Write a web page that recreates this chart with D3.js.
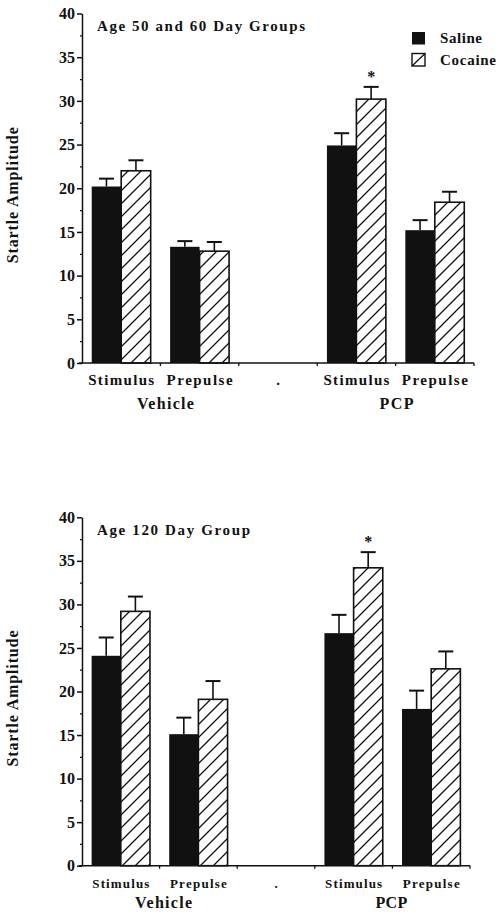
<!DOCTYPE html>
<html><head><meta charset="utf-8">
<script src="https://cdn.jsdelivr.net/npm/d3@7"></script>
<style>
body{margin:0;background:#fff}
text{font-family:"Liberation Serif","Times New Roman",serif;font-weight:bold;fill:#111}
</style>
</head><body>
<svg id="c" width="503" height="918"></svg>
<script>
// ---- data ----
const categories = ["Stimulus", "Prepulse", ".", "Stimulus", "Prepulse"];
const groups = ["Vehicle", "PCP"];
const series = ["Saline", "Cocaine"];
const yTicks = [0, 5, 10, 15, 20, 25, 30, 35, 40];
const yMinorTicks = [2.5, 7.5, 12.5, 17.5, 22.5, 27.5, 32.5, 37.5];

const topTitle = "Age 50 and 60 Day Groups";
const topSaline = [20.2, 13.3, null, 24.9, 15.2];
const topSalineErr = [0.9, 0.65, null, 1.4, 1.15];
const topCocaine = [22.0, 12.8, null, 30.2, 18.4];
const topCocaineErr = [1.2, 1.05, null, 1.4, 1.2];
const topSignificant = [false, false, false, true, false];

const bottomTitle = "Age 120 Day Group";
const bottomSaline = [24.1, 15.1, null, 26.7, 18.0];
const bottomSalineErr = [2.1, 1.9, null, 2.1, 2.1];
const bottomCocaine = [29.2, 19.1, null, 34.2, 22.6];
const bottomCocaineErr = [1.7, 2.1, null, 1.8, 2.0];
const bottomSignificant = [false, false, false, true, false];

const yLabel = "Startle Amplitude";

// ---- drawing ----
const svg = d3.select("#c");
const ink = "#111";

const defs = svg.append("defs");
const hp = 13;
defs.append("pattern").attr("id", "hatch")
  .attr("patternUnits", "userSpaceOnUse").attr("width", hp).attr("height", hp)
  .call(p => {
    p.append("rect").attr("width", hp).attr("height", hp).attr("fill", "#fff");
    p.append("path")
      .attr("d", `M0,${hp} L${hp},0 M-2,2 L2,-2 M${hp-2},${hp+2} L${hp+2},${hp-2}`)
      .attr("stroke", ink).attr("stroke-width", 1.3);
  });

function drawChart(cfg) {
  const g = svg.append("g");
  const x = d3.scaleBand().domain(d3.range(categories.length)).range([cfg.x0, cfg.x1]);
  const xs = d3.scaleBand().domain(series).range([0, x.bandwidth()]).paddingOuter(0.33);
  const y = d3.scaleLinear().domain([0, 40]).range([cfg.y0, cfg.y40]);

  const rows = categories.map((c, i) => ({
    i, sal: cfg.saline[i], salE: cfg.salineErr[i], coc: cfg.cocaine[i], cocE: cfg.cocaineErr[i], sig: cfg.sig[i]
  })).filter(d => d.sal != null);

  const errG = g.append("g").attr("stroke", ink).attr("stroke-width", 1.6);
  const capW = 15;
  rows.forEach(d => {
    [["Saline", d.sal, d.salE], ["Cocaine", d.coc, d.cocE]].forEach(([s, v, e]) => {
      const cx = x(d.i) + xs(s) + xs.bandwidth() / 2;
      errG.append("line").attr("x1", cx).attr("x2", cx).attr("y1", y(v)).attr("y2", y(v + e));
      errG.append("line").attr("x1", cx - capW / 2).attr("x2", cx + capW / 2).attr("y1", y(v + e)).attr("y2", y(v + e)).attr("stroke-width", 2);
    });
  });

  g.append("g").selectAll("rect").data(rows).join("rect")
    .attr("x", d => x(d.i) + xs("Saline"))
    .attr("y", d => y(d.sal))
    .attr("width", xs.bandwidth())
    .attr("height", d => y(0) - y(d.sal))
    .attr("fill", ink);

  g.append("g").selectAll("rect").data(rows).join("rect")
    .attr("x", d => x(d.i) + xs("Cocaine"))
    .attr("y", d => y(d.coc))
    .attr("width", xs.bandwidth())
    .attr("height", d => y(0) - y(d.coc))
    .attr("fill", "url(#hatch)")
    .attr("stroke", ink).attr("stroke-width", 1.6);

  g.append("g").selectAll("text").data(rows.filter(d => d.sig)).join("text")
    .attr("x", d => x(d.i) + xs("Cocaine") + xs.bandwidth() / 2)
    .attr("y", d => y(d.coc + d.cocE) - 5)
    .attr("text-anchor", "middle").attr("font-size", 16).text("*");

  // y axis
  const ya = g.append("g").attr("transform", `translate(${cfg.x0},0)`)
    .call(d3.axisLeft(y).tickValues(yTicks).tickSize(5).tickSizeOuter(0).tickPadding(2).tickFormat(d3.format("d")));
  ya.selectAll("text").attr("font-size", 16).style("font-family", '"Liberation Serif",serif').style("font-weight", "bold").attr("fill", ink);
  ya.selectAll("line").attr("stroke", ink).attr("stroke-width", 1.5);
  ya.select(".domain").attr("stroke", ink).attr("stroke-width", 1.5);
  const ym = g.append("g").attr("transform", `translate(${cfg.x0},0)`)
    .call(d3.axisLeft(y).tickValues(yMinorTicks).tickSize(2).tickFormat(""));
  ym.select(".domain").remove();
  ym.selectAll("line").attr("stroke", ink).attr("stroke-width", 1.3);

  // x axis
  const xa = g.append("g").attr("transform", `translate(0,${cfg.y0})`);
  xa.append("line").attr("x1", cfg.x0 - 3).attr("x2", cfg.x1).attr("stroke", ink).attr("stroke-width", 1.6);
  xa.selectAll(".tk").data(d3.range(1, categories.length + 1)).join("line").attr("class", "tk")
    .attr("x1", i => i < categories.length ? x(i) : cfg.x1)
    .attr("x2", i => i < categories.length ? x(i) : cfg.x1)
    .attr("y1", 0).attr("y2", 3).attr("stroke", ink).attr("stroke-width", 1.3);

  // category labels
  g.append("g").selectAll("text").data(categories).join("text")
    .attr("x", (c, i) => x(i) + x.bandwidth() / 2)
    .attr("y", cfg.catY)
    .attr("text-anchor", "middle")
    .attr("font-size", cfg.catSize)
    .each(function (c) { if (c !== ".") d3.select(this).attr("textLength", cfg.catLen).attr("lengthAdjust", "spacing"); })
    .text(c => c);

  // group labels
  const groupCenters = [x(1) + cfg.groupShift[0], x(4) + cfg.groupShift[1]];
  g.append("g").selectAll("text").data(groups).join("text")
    .attr("x", (d, i) => groupCenters[i])
    .attr("y", cfg.groupY)
    .attr("text-anchor", "middle")
    .attr("font-size", 16)
    .attr("textLength", (d, i) => cfg.groupLen[i]).attr("lengthAdjust", "spacing")
    .text(d => d);

  // title
  g.append("text").attr("x", cfg.x0 + 15).attr("y", cfg.titleY)
    .attr("font-size", 15).attr("textLength", cfg.titleLen).attr("lengthAdjust", "spacing")
    .text(cfg.title);

  // y label
  g.append("text").attr("transform", `translate(18,${(cfg.y0 + cfg.y40) / 2 + 7}) rotate(-90)`)
    .attr("text-anchor", "middle").attr("font-size", 16)
    .attr("textLength", 136).attr("lengthAdjust", "spacing")
    .text(yLabel);

  // legend
  if (cfg.legend) {
    const lg = g.append("g").attr("transform", `translate(${cfg.legend[0]},${cfg.legend[1]})`);
    const it = lg.selectAll("g").data(series).join("g").attr("transform", (d, i) => `translate(0,${i * 21.5})`);
    it.append("rect").attr("width", 13).attr("height", 12.5)
      .attr("fill", (d, i) => i === 0 ? ink : "#fff")
      .attr("stroke", ink).attr("stroke-width", (d, i) => i === 0 ? 0 : 1.4);
    it.filter((d, i) => i === 1).append("line")
      .attr("x1", 0).attr("y1", 12.5).attr("x2", 13).attr("y2", 0).attr("stroke", ink).attr("stroke-width", 1.3);
    it.append("text").attr("x", 28).attr("y", 11).attr("font-size", 15)
      .attr("textLength", (d, i) => [42, 56][i]).attr("lengthAdjust", "spacing")
      .text(d => d);
  }
}

drawChart({
  x0: 82, x1: 474, y0: 363, y40: 13.5,
  saline: topSaline, salineErr: topSalineErr, cocaine: topCocaine, cocaineErr: topCocaineErr, sig: topSignificant,
  catY: 385, catSize: 15, catLen: 66, groupY: 409, groupShift: [5, 1], groupLen: [57, 34],
  title: topTitle, titleY: 31, titleLen: 208,
  legend: [412, 32]
});

drawChart({
  x0: 82, x1: 470, y0: 865.7, y40: 517.3,
  saline: bottomSaline, salineErr: bottomSalineErr, cocaine: bottomCocaine, cocaineErr: bottomCocaineErr, sig: bottomSignificant,
  catY: 888, catSize: 13, catLen: 57, groupY: 908, groupShift: [4, -1], groupLen: [57, 32],
  title: bottomTitle, titleY: 535, titleLen: 153,
  legend: null
});
</script>
</body></html>
